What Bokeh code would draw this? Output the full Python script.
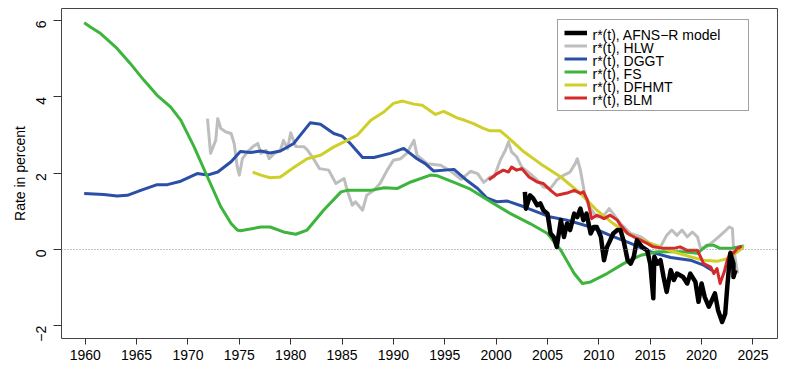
import math
from bokeh.plotting import figure
from bokeh.models import FixedTicker, Span, Legend, LegendItem, Range1d, Label
from bokeh.embed import file_html
from bokeh.resources import INLINE

# ---------------- data ----------------
afns_x = [2002.8, 2002.9, 2003.3, 2003.6, 2004.0, 2004.3, 2004.6, 2005.0, 2005.3, 2005.6,
          2005.9, 2006.3, 2006.6, 2006.9, 2007.2, 2007.6, 2007.9, 2008.2, 2008.5, 2008.8,
          2009.2, 2009.5, 2009.8, 2010.2, 2010.5, 2010.8, 2011.1, 2011.4, 2011.8, 2012.1,
          2012.4, 2012.8, 2013.1, 2013.4, 2013.7, 2014.2, 2014.7, 2015.0, 2015.3, 2015.4,
          2015.7, 2016.0, 2016.3, 2016.6, 2017.0, 2017.3, 2017.6, 2018.2, 2018.6, 2018.9,
          2019.4, 2019.7, 2020.0, 2020.3, 2020.7, 2021.0, 2021.3, 2021.6, 2022.0, 2022.3,
          2022.5, 2022.7, 2022.8, 2023.1, 2023.1, 2023.3]
afns_y = [1.51, 1.07, 1.42, 1.34, 1.16, 1.21, 1.03, 0.94, 0.42, 0.33,
          0.07, 0.77, 0.33, 0.68, 0.51, 0.94, 0.85, 1.07, 0.77, 0.94,
          0.42, 0.59, 0.59, 0.33, -0.28, 0.07, 0.24, 0.42, 0.51, 0.51,
          0.24, -0.28, -0.37, -0.19, 0.24, 0.07, -0.02, -0.37, -1.28, -0.19,
          -0.37, -0.28, -0.72, -1.11, -0.54, -0.80, -0.63, -0.72, -0.89, -0.63,
          -0.85, -1.37, -0.89, -1.24, -1.50, -1.33, -1.15, -1.59, -1.90, -1.68,
          -0.98, -0.37, -0.10, -0.37, -0.72, -0.54]

hlw_x = [1971.9, 1972.2, 1972.7, 1972.9, 1973.2, 1973.7, 1974.2, 1974.5, 1974.8, 1975.0,
         1975.3, 1975.8, 1976.3, 1976.8, 1977.1, 1977.6, 1977.9, 1978.4, 1979.0, 1979.3,
         1979.7, 1980.0, 1980.5, 1981.3, 1981.6, 1982.1, 1982.8, 1983.7, 1984.4, 1985.2,
         1985.5, 1986.0, 1986.3, 1987.0, 1987.4, 1988.1, 1988.7, 1989.4, 1990.0, 1990.7,
         1991.3, 1992.0, 1992.3, 1993.3, 1994.6, 1995.6, 1996.6, 1997.5, 1998.2, 1998.8,
         1999.4, 1999.8, 2000.4, 2000.9, 2001.2, 2001.5, 2002.0, 2002.5, 2003.3, 2004.0,
         2004.6, 2005.3, 2005.9, 2006.6, 2007.2, 2007.7, 2007.9, 2008.2, 2008.5, 2008.7,
         2009.2, 2009.8, 2010.5, 2011.0, 2011.4, 2012.1, 2013.1, 2014.1, 2015.0, 2016.0,
         2016.6, 2017.1, 2017.6, 2018.1, 2018.6, 2019.1, 2019.6, 2019.9, 2020.5, 2021.5,
         2022.2, 2022.7, 2023.0, 2023.1, 2023.5]
hlw_y = [3.43, 2.52, 2.86, 3.43, 3.17, 3.08, 3.04, 2.78, 2.16, 1.95,
         2.38, 2.56, 2.69, 2.78, 2.52, 2.60, 2.38, 2.52, 2.60, 2.86,
         2.64, 3.06, 2.70, 2.69, 2.62, 2.43, 2.12, 2.08, 1.73, 1.86,
         1.55, 1.16, 1.25, 1.03, 1.42, 1.55, 1.73, 2.08, 2.34, 2.38,
         2.52, 2.86, 2.47, 2.25, 2.21, 2.05, 1.84, 2.05, 1.99, 1.76,
         1.90, 1.90, 2.34, 2.60, 2.82, 2.56, 2.43, 2.16, 1.99, 1.82,
         1.64, 1.60, 1.82, 1.95, 2.03, 2.25, 2.38, 2.08, 1.64, 1.34,
         1.07, 0.85, 0.90, 1.07, 0.94, 0.68, 0.42, 0.33, 0.16, 0.07,
         0.37, 0.51, 0.37, 0.51, 0.33, 0.46, 0.33, 0.03, 0.07, 0.29,
         0.46, 0.59, 0.55, 0.07, -0.63]

dggt_x = [1959.9, 1961.8, 1963.1, 1964.1, 1965.4, 1967.0, 1968.0, 1969.3, 1970.9, 1971.9,
          1972.9, 1974.2, 1975.1, 1976.1, 1977.1, 1978.0, 1979.0, 1980.3, 1981.9, 1982.9,
          1984.2, 1985.0, 1985.8, 1987.0, 1988.1, 1989.7, 1991.0, 1992.3, 1993.1, 1993.9,
          1995.9, 1997.2, 1998.2, 1999.1, 2000.1, 2001.1, 2002.7, 2005.3, 2006.9, 2009.2,
          2011.1, 2013.1, 2015.0, 2017.0, 2018.9, 2020.2, 2021.0]
dggt_y = [1.47, 1.44, 1.40, 1.42, 1.55, 1.70, 1.70, 1.79, 1.99, 1.95,
          2.03, 2.30, 2.57, 2.54, 2.58, 2.53, 2.58, 2.78, 3.32, 3.28,
          3.04, 2.97, 2.78, 2.41, 2.41, 2.52, 2.65, 2.38, 2.25, 2.06,
          2.10, 1.80, 1.60, 1.35, 1.25, 1.27, 1.12, 0.85, 0.77, 0.59,
          0.37, 0.16, -0.06, -0.21, -0.28, -0.41, -0.54]

fs_x = [1959.9, 1960.5, 1961.5, 1963.1, 1964.4, 1965.7, 1967.0, 1968.3, 1969.3, 1970.6,
        1971.9, 1973.2, 1974.2, 1974.8, 1975.1, 1977.1, 1978.0, 1979.3, 1980.5, 1981.6,
        1983.2, 1984.9, 1985.5, 1987.8, 1989.1, 1990.4, 1991.7, 1993.6, 1994.3, 1995.9,
        1997.5, 1999.3, 2001.4, 2003.3, 2005.0, 2006.3, 2007.6, 2008.4, 2009.2, 2010.8,
        2012.4, 2014.1, 2015.7, 2018.2, 2019.6, 2020.5, 2021.2, 2021.8, 2022.8, 2024.1]
fs_y = [5.94, 5.83, 5.66, 5.27, 4.87, 4.44, 4.04, 3.74, 3.39, 2.69,
        1.90, 1.12, 0.68, 0.51, 0.49, 0.59, 0.59, 0.46, 0.40, 0.51,
        1.03, 1.51, 1.55, 1.55, 1.62, 1.60, 1.77, 1.95, 1.93, 1.76,
        1.58, 1.28, 0.94, 0.68, 0.42, -0.02, -0.63, -0.89, -0.85, -0.63,
        -0.37, -0.15, -0.06, -0.06, -0.10, 0.11, 0.11, 0.03, 0.03, 0.09]

dfhmt_x = [1976.3, 1977.1, 1978.0, 1979.0, 1980.3, 1981.6, 1982.9, 1984.2, 1985.5, 1986.5,
           1987.8, 1989.1, 1990.0, 1990.9, 1992.0, 1992.8, 1994.1, 1994.9, 1996.2, 1997.0,
           1997.8, 1998.7, 1999.4, 2000.4, 2001.1, 2002.7, 2004.3, 2006.3, 2008.2, 2009.8,
           2011.4, 2013.1, 2015.0, 2017.0, 2018.9, 2020.2, 2021.5, 2022.5, 2023.5, 2024.1]
dfhmt_y = [2.03, 1.95, 1.88, 1.90, 2.15, 2.38, 2.47, 2.69, 2.86, 3.00,
           3.39, 3.61, 3.83, 3.89, 3.81, 3.78, 3.54, 3.62, 3.45, 3.38,
           3.30, 3.18, 3.11, 3.11, 2.95, 2.56, 2.25, 1.90, 1.47, 1.03,
           0.68, 0.37, 0.16, -0.04, -0.19, -0.28, -0.31, -0.24, -0.06, 0.07]

blm_x = [1999.3, 2000.1, 2000.7, 2001.2, 2001.5, 2002.0, 2002.5, 2003.2, 2004.0, 2004.6,
         2005.3, 2005.9, 2006.9, 2007.6, 2008.2, 2008.5, 2008.9, 2009.3, 2009.8, 2010.5,
         2011.1, 2011.8, 2012.1, 2012.8, 2013.7, 2014.7, 2015.3, 2016.3, 2017.3, 2017.9,
         2018.6, 2019.6, 2020.2, 2020.9, 2021.2, 2021.5, 2021.8, 2022.2, 2022.5, 2022.8,
         2023.1, 2023.5, 2023.9]
blm_y = [1.83, 1.99, 2.08, 2.03, 2.16, 2.08, 2.12, 1.90, 1.77, 1.73,
         1.55, 1.42, 1.48, 1.55, 1.47, 1.51, 1.29, 0.81, 0.90, 0.81,
         0.90, 0.77, 0.64, 0.42, 0.29, 0.16, 0.07, 0.03, 0.03, 0.07,
         -0.02, -0.02, -0.37, -0.46, -0.63, -0.50, -0.89, -0.59, -0.28, -0.06,
         -0.10, 0.03, 0.09]

x_ticks = [1960, 1965, 1970, 1975, 1980, 1985, 1990, 1995, 2000, 2005, 2010, 2015, 2020, 2025]
y_ticks = [-2, 0, 2, 4, 6]

labels = ["r*(t), AFNS\u2212R model", "r*(t), HLW", "r*(t), DGGT",
          "r*(t), FS", "r*(t), DFHMT", "r*(t), BLM"]
colors = ["#000000", "#BEBEBE", "#2B4EA8", "#3DB53D", "#CFCF2A", "#D42A2A"]

FONT = "Liberation Sans"

# layout constants (pixels)
FRAME_H = 330          # 367 - 8 (top) - 29 (bottom)
LEG_X = 496            # legend left, relative to frame left
LEG_TOP = 13           # legend top, below frame top
ROW = 13
PAD = 6
GLYPH_W = 23
STANDOFF = 5
LEG_H = 6 * ROW + 2 * PAD

p = figure(width=790, height=367, output_backend="svg", toolbar_location=None,
           x_range=Range1d(1957.69, 2027.39), y_range=Range1d(-2.332, 6.316),
           min_border_left=61, min_border_right=13, min_border_top=8, min_border_bottom=29)
p.background_fill_color = "white"
p.border_fill_color = "white"
p.outline_line_color = "#444444"
p.outline_line_width = 1
p.grid.visible = False

for ax in (p.xaxis[0], p.yaxis[0]):
    ax.axis_line_color = None
    ax.major_tick_line_color = "#333333"
    ax.major_tick_in = 0
    ax.minor_tick_line_color = None
    ax.major_label_text_font = FONT
    ax.major_label_text_font_size = "14px"
    ax.major_label_text_color = "black"
    ax.axis_label_text_font = FONT
    ax.axis_label_text_font_size = "14px"
    ax.axis_label_text_font_style = "normal"
    ax.axis_label_text_color = "black"

p.xaxis.ticker = FixedTicker(ticks=x_ticks)
p.xaxis.major_tick_out = 6
p.xaxis.major_label_standoff = 5
p.yaxis.ticker = FixedTicker(ticks=y_ticks)
p.yaxis.major_tick_out = 8
p.yaxis.major_label_standoff = 12
p.yaxis.major_label_orientation = math.pi / 2
p.yaxis.axis_label = "Rate in percent"
p.yaxis.axis_label_standoff = 1

p.add_layout(Span(location=0, dimension="width", line_color="#888888",
                  line_width=1, line_dash="1 2"))

r_hlw = p.line(hlw_x, hlw_y, line_color=colors[1], line_width=3, line_join="round")
r_dggt = p.line(dggt_x, dggt_y, line_color=colors[2], line_width=3, line_join="round")
r_fs = p.line(fs_x, fs_y, line_color=colors[3], line_width=3, line_join="round")
r_dfhmt = p.line(dfhmt_x, dfhmt_y, line_color=colors[4], line_width=3, line_join="round")
r_blm = p.line(blm_x, blm_y, line_color=colors[5], line_width=3, line_join="round")
r_afns = p.line(afns_x, afns_y, line_color=colors[0], line_width=4.5, line_join="round")

renderers = [r_afns, r_hlw, r_dggt, r_fs, r_dfhmt, r_blm]

# Legend box + line samples (tight R-style row spacing); texts drawn as labels on top
legend = Legend(items=[LegendItem(label=" ", renderers=[r]) for r in renderers])
legend.label_text_font = FONT
legend.label_text_font_size = "8px"
legend.label_height = ROW
legend.glyph_height = ROW
legend.glyph_width = GLYPH_W
legend.label_standoff = STANDOFF
legend.label_width = 150
legend.spacing = 0
legend.padding = PAD
legend.margin = 0
legend.location = (LEG_X, FRAME_H - LEG_TOP - LEG_H)
legend.border_line_color = "#444444"
legend.border_line_width = 1
legend.background_fill_alpha = 0.0
legend.level = "underlay"
p.add_layout(legend)

for i, lab in enumerate(labels):
    p.add_layout(Label(x=LEG_X + PAD + GLYPH_W + STANDOFF + 1,
                       y=FRAME_H - LEG_TOP - PAD - ROW * i - ROW / 2 - 1,
                       x_units="screen", y_units="screen", text=lab,
                       text_font=FONT, text_font_size="14px", text_color="black",
                       text_baseline="middle", text_align="left", level="overlay"))

open("out.html", "w").write(file_html(p, INLINE))
